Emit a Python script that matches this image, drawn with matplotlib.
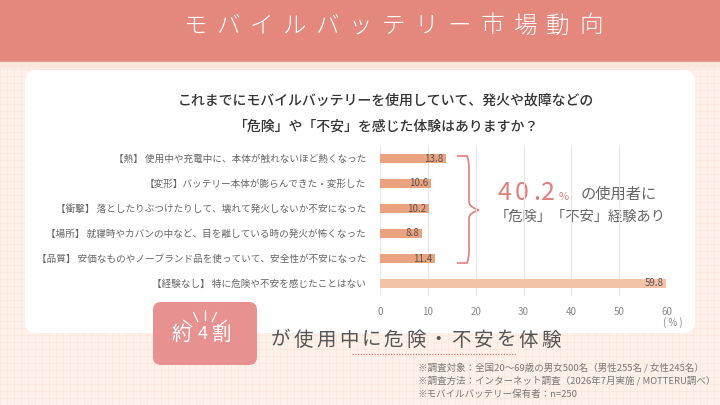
import numpy as np
import matplotlib.pyplot as plt
from matplotlib.patches import FancyBboxPatch, Rectangle
from matplotlib.path import Path
from matplotlib.patches import PathPatch

plt.rcParams['font.family'] = ['Noto Sans CJK JP', 'DejaVu Sans']

# data
labels = [
    "【熱】 使用中や充電中に、本体が触れないほど熱くなった",
    "【変形】バッテリー本体が膨らんできた・変形した",
    "【衝撃】 落としたりぶつけたりして、壊れて発火しないか不安になった",
    "【場所】 就寝時やカバンの中など、目を離している時の発火が怖くなった",
    "【品質】 安価なものやノーブランド品を使っていて、安全性が不安になった",
    "【経験なし】 特に危険や不安を感じたことはない",
]
values = [13.8, 10.6, 10.2, 8.8, 11.4, 59.8]
xticks = [0, 10, 20, 30, 40, 50, 60]

title = "モバイルバッテリー市場動向"
question = ["これまでにモバイルバッテリーを使用していて、発火や故障などの",
            "「危険」や「不安」を感じた体験はありますか？"]
summary = "が使用中に危険・不安を体験"
notes = ["※調査対象：全国20〜69歳の男女500名（男性255名 / 女性245名）",
         "※調査方法：インターネット調査（2026年7月実施 / MOTTERU調べ）",
         "※モバイルバッテリー保有者：n=250"]

HEAD = '#E4877C'
SALMON = '#E07F78'

fig = plt.figure(figsize=(7.2, 4.05), dpi=100)
bg = fig.add_axes([0, 0, 1, 1])
bg.set_xlim(0, 720)
bg.set_ylim(405, 0)
bg.axis('off')

# background with faint check pattern
bg.add_patch(Rectangle((0, 0), 720, 405, color='#FDF1EA', zorder=0))
for g in np.arange(0, 720, 7):
    bg.plot([g, g], [62, 405], color='#F8E3D8', lw=0.4, zorder=0.5)
for g in np.arange(62, 405, 7):
    bg.plot([0, 720], [g, g], color='#F8E3D8', lw=0.4, zorder=0.5)

# header band
bg.add_patch(Rectangle((0, 0), 720, 62, color=HEAD, zorder=1))
bg.add_patch(Rectangle((0, 62), 720, 5, color='#FBE6DE', zorder=1))


def spaced(x, y, s, step, **kw):
    for i, ch in enumerate(s):
        bg.text(x + i * step, y, ch, ha='center', va='center', **kw)


spaced(195, 26, title, 33, fontsize=17, color='white', weight='light', zorder=2)

# white card
bg.add_patch(FancyBboxPatch((35, 80), 650, 243, boxstyle='round,pad=10,rounding_size=12',
                            fc='white', ec='none', zorder=1))

bg.text(386, 101, question[0], ha='center', va='center', fontsize=10, color='#333333',
        weight='medium', zorder=2)
bg.text(386, 127, question[1], ha='center', va='center', fontsize=10, color='#333333',
        weight='medium', zorder=2)

# brace
bx, top, bot, mid = 457, 156, 263, 210
verts = [(bx, top), (bx + 10, top), (bx + 12, top + 4), (bx + 12, top + 12),
         (bx + 12, mid - 8), (bx + 12, mid - 3), (bx + 22, mid),
         (bx + 12, mid + 3), (bx + 12, mid + 8),
         (bx + 12, bot - 12), (bx + 12, bot - 4), (bx + 10, bot), (bx, bot)]
codes = [Path.MOVETO, Path.LINETO, Path.CURVE3, Path.CURVE3, Path.LINETO,
         Path.CURVE3, Path.CURVE3, Path.CURVE3, Path.CURVE3, Path.LINETO,
         Path.CURVE3, Path.CURVE3, Path.LINETO]
bg.add_patch(PathPatch(Path(verts, codes), fc='none', ec=SALMON, lw=1.2, zorder=2))

# 40.2%
for ch, x in zip("40.2", [504, 522, 537, 548]):
    bg.text(x, 193, ch, ha='center', va='center', fontsize=18, color=SALMON, zorder=2)
bg.text(564, 197, "%", ha='center', va='center', fontsize=8, color=SALMON, zorder=2)
bg.text(581, 194, "の使用者に", ha='left', va='center', fontsize=11, color='#666666', zorder=2)
bg.text(495, 217, "「危険」「不安」経験あり", ha='left', va='center', fontsize=10.3,
        color='#666666', zorder=2)

# 約4割 box
bg.add_patch(FancyBboxPatch((156, 305), 98, 57, boxstyle='round,pad=3,rounding_size=8',
                            fc='#E79191', ec='none', zorder=2))
for ch, x, fs in zip(["約", "4", "割"], [181, 203, 222], [14, 13, 14]):
    bg.text(x, 334, ch, ha='center', va='center', fontsize=fs, color='white', zorder=3)
for ang in [-52, -25, 0, 25, 52]:
    a = np.deg2rad(ang)
    cx, cy = 205, 337
    r0, r1 = 17, 27
    bg.plot([cx + r0 * np.sin(a), cx + r1 * np.sin(a)],
            [cy - r0 * np.cos(a), cy - r1 * np.cos(a)], color='white', lw=0.9, zorder=3)

spaced(281, 340, summary, 22.5, fontsize=14, color='#555555', zorder=2)
bg.plot([352, 516], [354, 354], color=SALMON, lw=0.9, ls=(0, (1, 1.2)), zorder=2)

for i, n in enumerate(notes):
    bg.text(418, 368 + 13 * i, n, ha='left', va='center', fontsize=6.8, color='#777777', zorder=2)

# bar chart
ax = fig.add_axes([380 / 720, 1 - 296 / 405, 287 / 720, 150 / 405])
ax.patch.set_alpha(0)
ypos = np.arange(len(values))
colors = ['#EBA27E'] * 5 + ['#F3C3A8']
ax.barh(ypos, values, height=0.36, color=colors, zorder=2)
ax.set_ylim(len(values) - 0.5, -0.5)
ax.set_xlim(0, 60)
ax.set_xticks(xticks)
ax.set_yticks(ypos)
ax.set_yticklabels(labels, fontsize=6.9, color='#666666')
ax.tick_params(axis='both', length=0)
ax.tick_params(axis='y', pad=10)
ax.tick_params(axis='x', pad=8, labelsize=7, labelcolor='#888888')
ax.grid(axis='x', color='#E6E6E6', lw=0.8, zorder=0)
for s in ax.spines.values():
    s.set_visible(False)
for y, v in zip(ypos, values):
    ax.text(v - 0.5, y, f"{v}", ha='right', va='center', fontsize=7, color='#555555', zorder=3)
ax.text(1.02, -0.18, "( % )", transform=ax.transAxes, ha='center', va='center',
        fontsize=7, color='#888888')

fig.savefig('out.png', dpi=100)
